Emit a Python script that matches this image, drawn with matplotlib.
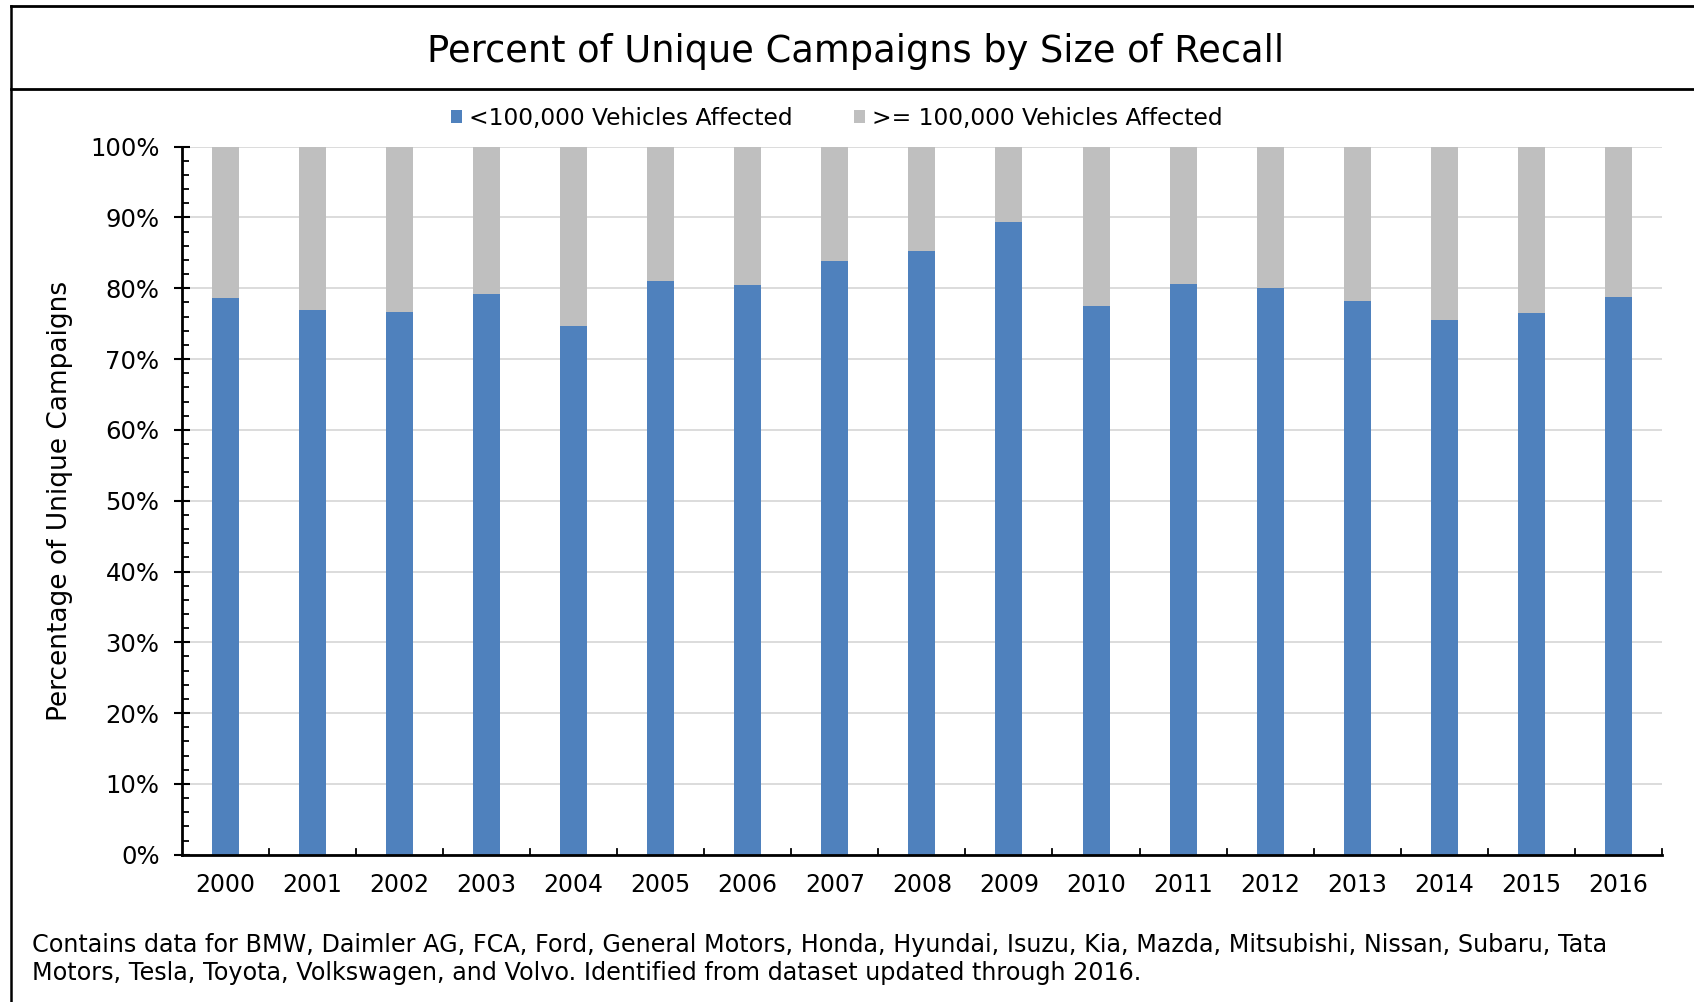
import matplotlib
matplotlib.use('Agg')
import matplotlib.pyplot as plt
from matplotlib.lines import Line2D
from matplotlib.patches import Patch
from matplotlib.ticker import MultipleLocator, PercentFormatter

plt.rcParams['font.family'] = ['DejaVu Sans']

# 캠페인 비율 데이터
years = ['2000', '2001', '2002', '2003', '2004', '2005', '2006', '2007', '2008',
         '2009', '2010', '2011', '2012', '2013', '2014', '2015', '2016']
small_pct = [78.6, 77.0, 76.6, 79.2, 74.7, 81.0, 80.5, 83.9, 85.2,
             89.4, 77.5, 80.6, 80.0, 78.2, 75.5, 76.5, 78.8]
large_pct = [100 - v for v in small_pct]

blue = '#4F81BD'
gray = '#BFBFBF'

fig = plt.figure(figsize=(16.94, 10.02), dpi=100)
ax = fig.add_axes([0.1073, 0.147, 0.8738, 0.7066])

x = range(len(years))
ax.bar(x, small_pct, width=0.31, color=blue, zorder=3)
ax.bar(x, large_pct, width=0.31, bottom=small_pct, color=gray, zorder=3)

ax.set_xlim(-0.5, len(years) - 0.5)
ax.set_ylim(0, 100)
ax.yaxis.set_major_locator(MultipleLocator(10))
ax.yaxis.set_minor_locator(MultipleLocator(2))
ax.yaxis.set_major_formatter(PercentFormatter(decimals=0))
ax.grid(axis='y', color='#D9D9D9', linewidth=1.3, zorder=0)

ax.set_xticks(list(x))
ax.set_xticklabels(years, fontsize=17)
ax.tick_params(axis='x', length=0, pad=13)
# 카테고리 경계 눈금
for b in [i + 0.5 for i in range(len(years))]:
    ax.plot([b, b], [0, 0.8], color='black', linewidth=1.3, clip_on=False, zorder=4)

ax.tick_params(axis='y', which='major', direction='inout', length=12, width=1.5,
               labelsize=17.5, pad=10)
ax.tick_params(axis='y', which='minor', direction='in', length=5, width=1.3)

for s in ['top', 'right']:
    ax.spines[s].set_visible(False)
ax.spines['left'].set_linewidth(2)
ax.spines['bottom'].set_linewidth(2)
ax.spines['left'].set_zorder(5)
ax.spines['bottom'].set_zorder(5)

ax.set_ylabel('Percentage of Unique Campaigns', fontsize=19, labelpad=12)

fig.text(0.505, 0.949, 'Percent of Unique Campaigns by Size of Recall',
         fontsize=26.5, ha='center', va='center')

handles = [Patch(facecolor=blue, edgecolor='none', label='<100,000 Vehicles Affected'),
           Patch(facecolor=gray, edgecolor='none', label='>= 100,000 Vehicles Affected')]
fig.legend(handles=handles, loc='center', bbox_to_anchor=(0.494, 0.882), ncol=2,
           frameon=False, fontsize=16.8, handlelength=0.5, handleheight=0.5,
           handletextpad=0.3, columnspacing=2.6)

fig.text(0.019, 0.043,
         'Contains data for BMW, Daimler AG, FCA, Ford, General Motors, Honda, Hyundai, Isuzu, Kia, Mazda, Mitsubishi, Nissan, Subaru, Tata\n'
         'Motors, Tesla, Toyota, Volkswagen, and Volvo. Identified from dataset updated through 2016.',
         fontsize=17.2, ha='left', va='center', linespacing=1.25)

# 바깥 테두리
fig.add_artist(Line2D([11 / 1694, 11 / 1694], [0, 1 - 6 / 1002], color='black', linewidth=1.8))
fig.add_artist(Line2D([11 / 1694, 1], [1 - 6 / 1002, 1 - 6 / 1002], color='black', linewidth=2))
fig.add_artist(Line2D([11 / 1694, 1], [1 - 89 / 1002, 1 - 89 / 1002], color='black', linewidth=2))

fig.savefig('out.png', dpi=100)
